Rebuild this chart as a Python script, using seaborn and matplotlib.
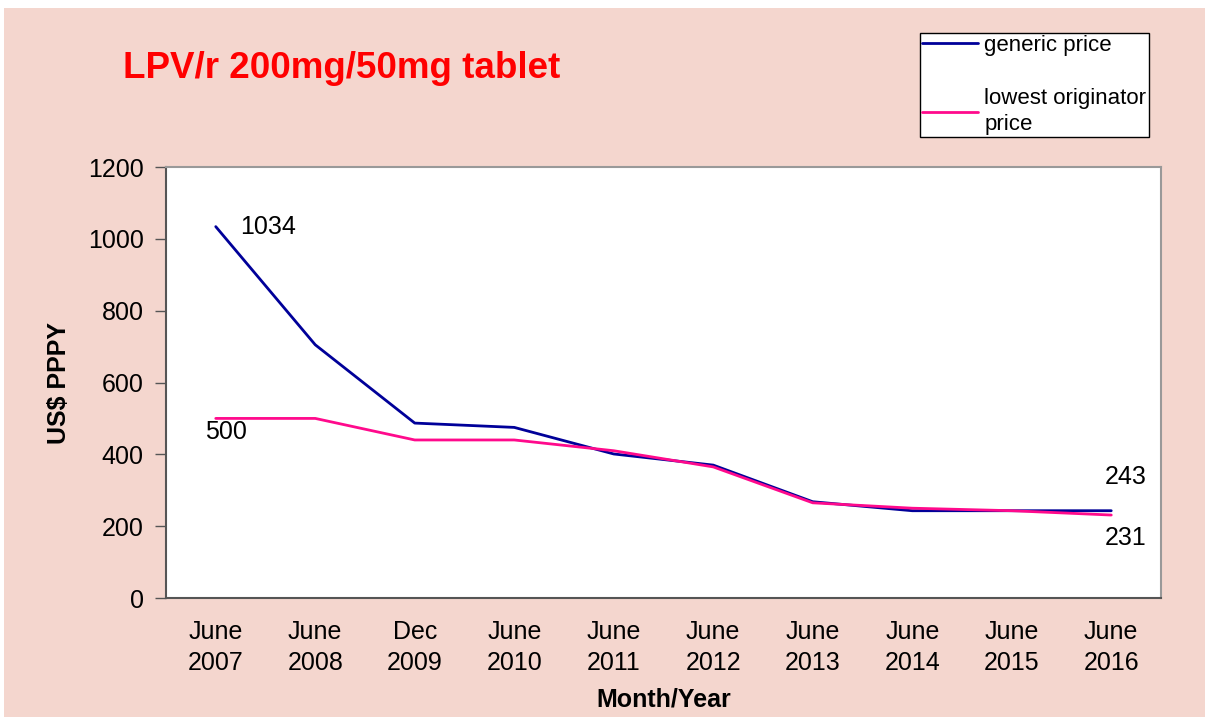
"""
LPV/r 200mg/50mg tablet price trend, generic vs lowest originator.
"""

import pandas as pd
import matplotlib.pyplot as plt
from matplotlib.patches import Rectangle
import seaborn as sns

periods = ["June\n2007", "June\n2008", "Dec\n2009", "June\n2010", "June\n2011",
           "June\n2012", "June\n2013", "June\n2014", "June\n2015", "June\n2016"]
generic_price = [1034, 705, 487, 475, 401, 370, 268, 243, 243, 243]
originator_price = [500, 500, 440, 440, 410, 365, 265, 250, 243, 231]
series_names = ["generic price", "lowest originator\nprice"]
series_colors = ["#000099", "#FF0A8C"]

bg_pink = "#F4D6CE"

df = pd.DataFrame({
    "pos": list(range(len(periods))) * 2,
    "price": generic_price + originator_price,
    "series": [series_names[0]] * len(periods) + [series_names[1]] * len(periods),
})

sns.set_style("white")
plt.rcParams["font.family"] = ["Liberation Sans", "DejaVu Sans"]
plt.rcParams["text.color"] = "black"
plt.rcParams["axes.labelcolor"] = "black"
plt.rcParams["xtick.color"] = "black"
plt.rcParams["ytick.color"] = "black"

fig = plt.figure(figsize=(12.05, 7.17), dpi=100, facecolor="white")
# pink panel with a thin white strip on top and left
fig.patches.append(Rectangle((4 / 1205, 0), 1, 1 - 8 / 717, transform=fig.transFigure,
                             facecolor=bg_pink, edgecolor="none", zorder=-10))

ax = fig.add_axes([166 / 1205, 119 / 717, 995 / 1205, 431 / 717])
ax.set_facecolor("white")

sns.lineplot(data=df, x="pos", y="price", hue="series", palette=series_colors,
             linewidth=2, ax=ax, legend=False)

ax.set_xlim(-0.5, len(periods) - 0.5)
ax.set_ylim(0, 1200)
ax.set_yticks(range(0, 1201, 200))
ax.set_xticks(range(len(periods)))
ax.set_xticklabels(periods, fontsize=18, linespacing=1.35)
ax.set_xticks([i - 0.5 for i in range(len(periods) + 1)], minor=True)
ax.tick_params(axis="x", which="major", length=0, pad=16, labelcolor="black")
ax.tick_params(axis="x", which="minor", length=8, width=1, color="#555555", direction="out")
ax.tick_params(axis="y", labelsize=18, length=8, width=1, color="#555555", direction="out",
               pad=8, labelcolor="black")
ax.tick_params(left=True, bottom=True)

for side in ["left", "bottom"]:
    ax.spines[side].set_color("#555555")
    ax.spines[side].set_linewidth(1.5)
for side in ["top", "right"]:
    ax.spines[side].set_color("#999999")
    ax.spines[side].set_linewidth(1.5)

ax.set_xlabel("Month/Year", fontsize=18, fontweight="bold", labelpad=9, color="black")
ax.set_ylabel("US$ PPPY", fontsize=18, fontweight="bold", labelpad=12, color="black")

# value labels
ax.annotate(f"{generic_price[0]}", (0, generic_price[0]), xytext=(24, 0),
            textcoords="offset pixels", fontsize=18, va="center", ha="left", color="black")
ax.annotate(f"{originator_price[0]}", (0, originator_price[0]), xytext=(-11, -14),
            textcoords="offset pixels", fontsize=18, va="center", ha="left", color="black")
ax.annotate(f"{generic_price[-1]}", (len(periods) - 1, generic_price[-1]), xytext=(-7, 34),
            textcoords="offset pixels", fontsize=18, va="center", ha="left", color="black")
ax.annotate(f"{originator_price[-1]}", (len(periods) - 1, originator_price[-1]), xytext=(-7, -23),
            textcoords="offset pixels", fontsize=18, va="center", ha="left", color="black")

fig.text(123 / 1205, 1 - 69 / 717, "LPV/r 200mg/50mg tablet", color="#FF0000",
         fontsize=26.5, fontweight="bold", va="center", ha="left")

handles = [plt.Line2D([], [], color=c, linewidth=2) for c in series_colors]
leg = fig.legend(handles, series_names, loc="upper left",
                 bbox_to_anchor=(920 / 1205, 1 - 33 / 717), bbox_transform=fig.transFigure,
                 fontsize=16, frameon=True, fancybox=False, framealpha=1,
                 edgecolor="black", facecolor="white", handlelength=2.5,
                 handletextpad=0.3, labelspacing=1.45, borderpad=0.1, borderaxespad=0)
leg.get_frame().set_linewidth(1)
for t in leg.get_texts():
    t.set_linespacing(1.3)
    t.set_color("black")

fig.savefig("out.png", dpi=100, facecolor=fig.get_facecolor())
